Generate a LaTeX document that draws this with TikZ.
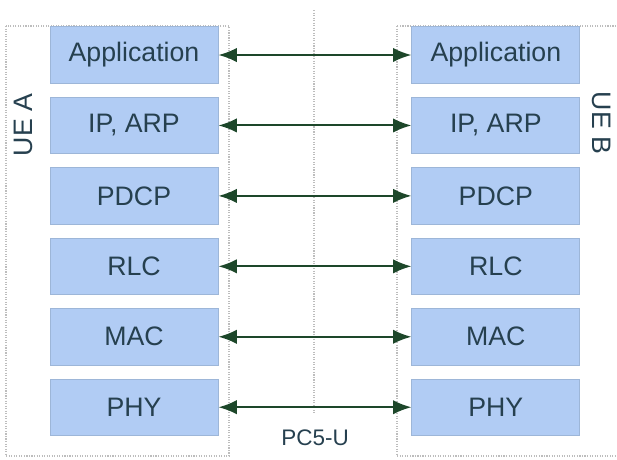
\documentclass[tikz,border=0pt]{standalone}
\usepackage{fontspec}
\setsansfont{Liberation Sans}
\usepackage{xcolor}
\usepackage{tikz}
\usetikzlibrary{arrows.meta, positioning}

\definecolor{layerfill}{HTML}{B1CCF4}
\definecolor{layerdraw}{HTML}{9DB6D8}
\definecolor{layertext}{HTML}{26404F}
\definecolor{peerarrow}{HTML}{1D472A}
\definecolor{framegray}{HTML}{BDBDBD}

\begin{document}
\begin{tikzpicture}[
      layer/.style={rectangle, draw=layerdraw, fill=layerfill, line width=0.6pt,
                    minimum width=4.2cm, minimum height=1.41cm,
                    text=layertext, font=\sffamily\fontsize{19}{22}\selectfont},
      peer/.style={{Latex[length=0.46cm, width=0.36cm]}-{Latex[length=0.46cm, width=0.36cm]},
                   line width=1.4pt, peerarrow},
      frame/.style={densely dotted, line width=0.8pt, framegray},
      side/.style={text=layertext, font=\sffamily\fontsize{19}{22}\selectfont},
      node distance=0.33cm and 4.825cm
    ]
    \clip (0,0) rectangle (15.425,-11.475);

    % UE frames and middle line
    \draw[frame] (0.15,-0.65) rectangle (5.725,-11.4);
    \draw[frame] (9.925,-0.65) rectangle (15.8,-11.4);
    \draw[frame] (7.85,-0.25) -- (7.85,-10.33);

    % UE A protocol stack
    \node[layer] (appA) at (3.35,-1.375) {Application};
    \node[layer, below=of appA] (ipA)   {IP, ARP};
    \node[layer, below=of ipA]  (pdcpA) {PDCP};
    \node[layer, below=of pdcpA] (rlcA) {RLC};
    \node[layer, below=of rlcA] (macA)  {MAC};
    \node[layer, below=of macA] (phyA)  {PHY};

    % UE B protocol stack
    \node[layer, right=of appA]  (appB)  {Application};
    \node[layer, right=of ipA]   (ipB)   {IP, ARP};
    \node[layer, right=of pdcpA] (pdcpB) {PDCP};
    \node[layer, right=of rlcA]  (rlcB)  {RLC};
    \node[layer, right=of macA]  (macB)  {MAC};
    \node[layer, right=of phyA]  (phyB)  {PHY};

    % Peer arrows
    \draw[peer] (appA)  -- (appB);
    \draw[peer] (ipA)   -- (ipB);
    \draw[peer] (pdcpA) -- (pdcpB);
    \draw[peer] (rlcA)  -- (rlcB);
    \draw[peer] (macA)  -- (macB);
    \draw[peer] (phyA)  -- (phyB);

    % Labels
    \node[side, rotate=90]  (ueA) at (0.575,-3.125) {UE A};
    \node[side, rotate=-90] (ueB) at (15.05,-3.075) {UE B};
    \node[side, font=\sffamily\fontsize{16}{20}\selectfont] (pc5) at (7.875,-10.95) {PC5-U};

  \end{tikzpicture}
\end{document}
